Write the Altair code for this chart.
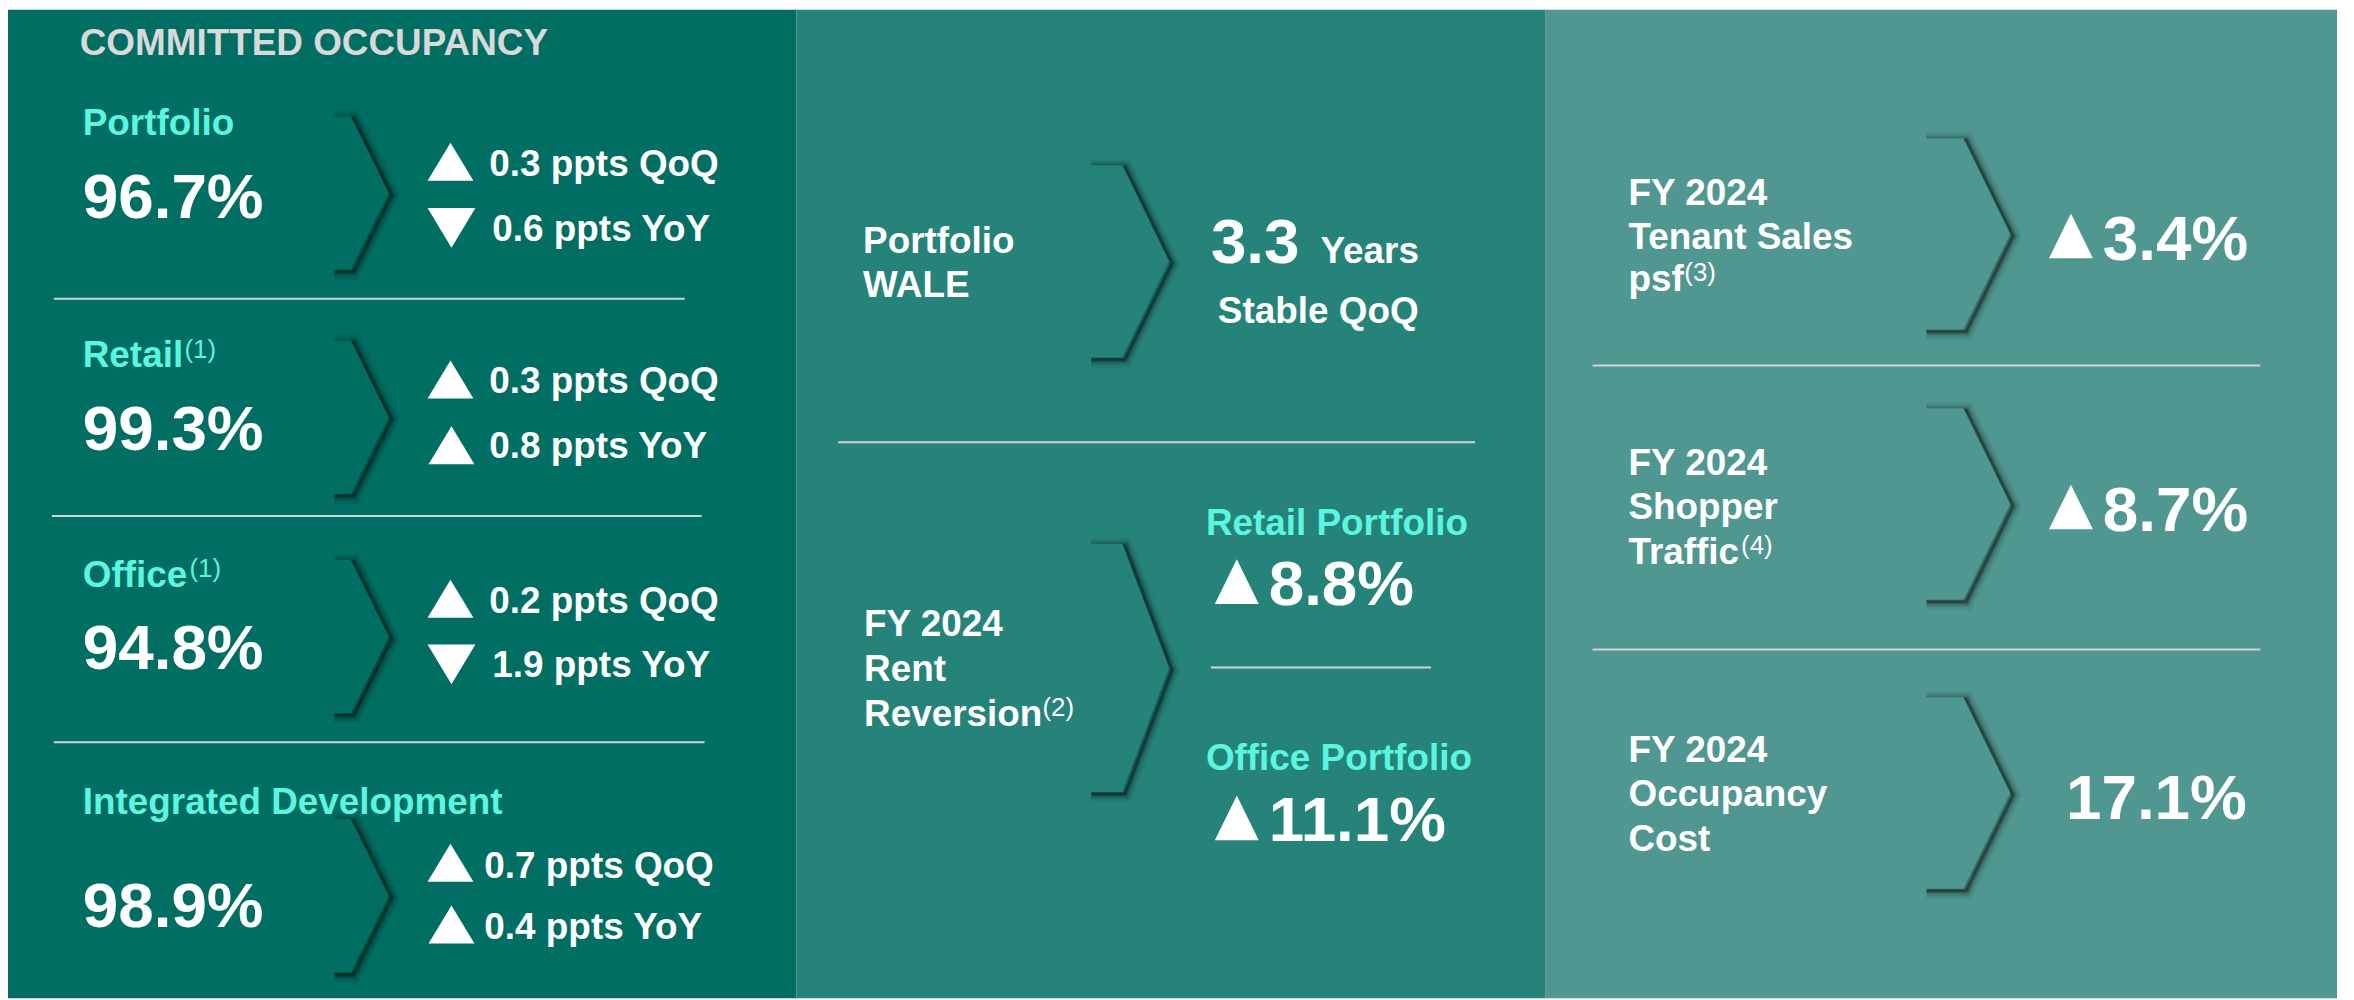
import altair as alt
import pandas as pd

# ---------------- data ----------------
title = "COMMITTED OCCUPANCY"
occ_segments = ["Portfolio", "Retail", "Office", "Integrated Development"]
occ_notes = ["", "(1)", "(1)", ""]
occ_values = [96.7, 99.3, 94.8, 98.9]
occ_qoq = [0.3, 0.3, 0.2, 0.7]
occ_qoq_dir = ["up", "up", "up", "up"]
occ_yoy = [0.6, 0.8, 1.9, 0.4]
occ_yoy_dir = ["down", "up", "down", "up"]

wale_label = ["Portfolio", "WALE"]
wale_years = 3.3
wale_change = "Stable QoQ"

rev_label = ["FY 2024", "Rent", "Reversion"]
rev_note = "(2)"
rev_segments = ["Retail Portfolio", "Office Portfolio"]
rev_values = [8.8, 11.1]

kpi_labels = [["FY 2024", "Tenant Sales", "psf"],
              ["FY 2024", "Shopper", "Traffic"],
              ["FY 2024", "Occupancy", "Cost"]]
kpi_notes = ["(3)", "(4)", ""]
kpi_values = [3.4, 8.7, 17.1]
kpi_dir = ["up", "up", ""]

# ---------------- layout (page pixels) ----------------
W, H, M = 2354, 1000, 8
C_LEFT, C_MID, C_RIGHT = "#006e62", "#268379", "#4f9790"
CYAN, WHITE, GREY, SEP = "#5cf5e0", "#ffffff", "#d9d9d9", "#cdd6d4"
FONT = "Liberation Sans, Arial, sans-serif"
F_MED, F_BIG, F_SUP = 37, 64, 26

panels = pd.DataFrame({"x": [M, 799, 1551], "x2": [799, 1551, 2345],
                       "y": [M] * 3, "y2": [H] * 3, "c": [C_LEFT, C_MID, C_RIGHT]})

bold, reg, tris, seps, chevs = [], [], [], [], []

def T(x, y, t, s, c, lst=bold):
    lst.append({"x": x, "y": y, "text": t, "size": s, "color": c})

T(80, 53, title, F_MED, GREY)

lab_y = [134, 367, 587, 815]
val_y = [217, 450, 670, 928]
sup_x = [0, 185, 190, 0]
chev_top = [115, 340, 560, 820]
qoq_cy = [160.5, 379, 599, 864]
yoy_cy = [227, 445, 665, 926]
qoq_by = [175, 393, 613, 879]
yoy_by = [240, 458, 678, 940]
for i, seg in enumerate(occ_segments):
    T(83, lab_y[i], seg, F_MED, CYAN)
    if occ_notes[i]:
        T(sup_x[i], lab_y[i] - 10, occ_notes[i], F_SUP, CYAN, reg)
    T(83, val_y[i], f"{occ_values[i]:.1f}%", F_BIG, WHITE)
    tx = 486 if i == 3 else 491
    T(tx, qoq_by[i], f"{occ_qoq[i]:.1f} ppts QoQ", F_MED, WHITE)
    T(tx + (3 if occ_yoy_dir[i] == "down" else 0), yoy_by[i], f"{occ_yoy[i]:.1f} ppts YoY", F_MED, WHITE)
    tris.append({"x": 452, "y": qoq_cy[i], "kind": occ_qoq_dir[i] + "_s"})
    tris.append({"x": 453, "y": yoy_cy[i], "kind": occ_yoy_dir[i] + "_s"})
    chevs.append((i, 320, 352, 390, chev_top[i], chev_top[i] + 154, C_LEFT))

seps += [(54, 687, 298), (52, 704, 516), (54, 707, 743)]

# middle
T(866, 252, wale_label[0], F_MED, WHITE)
T(866, 296, wale_label[1], F_MED, WHITE)
T(1215, 262, f"{wale_years:.1f}", F_BIG, WHITE)
T(1325, 262, "Years", F_MED, WHITE)
T(1222, 322, wale_change, F_MED, WHITE)
chevs.append((4, 1080, 1126, 1173, 164, 357, C_MID))
seps.append((841, 1480, 442))
for j, (t, yy) in enumerate(zip(rev_label, [636, 682, 727])):
    T(867, yy, t, F_MED, WHITE)
T(1046, 717, rev_note, F_SUP, WHITE, reg)
chevs.append((5, 1080, 1126, 1173, 544, 793, C_MID))
rev_lab_y = [535, 771]
rev_val_y = [605, 842]
for j, seg in enumerate(rev_segments):
    T(1210, rev_lab_y[j], seg, F_MED, CYAN)
    T(1273, rev_val_y[j], f"{rev_values[j]:.1f}%", F_BIG, WHITE)
    tris.append({"x": 1241, "y": rev_val_y[j] - 23, "kind": "up_b"})
seps.append((1215, 1436, 668))

# right
kpi_lab_y = [[204, 248, 290], [475, 519, 564], [763, 807, 852]]
kpi_sup_x = [1690, 1747, 0]
kpi_top = [137, 408, 698]
kpi_val_y = [259, 531, 820]
for k in range(3):
    for t, yy in zip(kpi_labels[k], kpi_lab_y[k]):
        T(1634, yy, t, F_MED, WHITE)
    if kpi_notes[k]:
        T(kpi_sup_x[k], kpi_lab_y[k][2] - 10, kpi_notes[k], F_SUP, WHITE, reg)
    chevs.append((6 + k, 1918, 1970, 2017, kpi_top[k], kpi_top[k] + 192, C_RIGHT))
    if kpi_dir[k] == "up":
        T(2110, kpi_val_y[k], f"{kpi_values[k]:.1f}%", F_BIG, WHITE)
        tris.append({"x": 2078, "y": kpi_val_y[k] - 24, "kind": "up_b"})
    else:
        T(2073, kpi_val_y[k], f"{kpi_values[k]:.1f}%", F_BIG, WHITE)
seps += [(1598, 2268, 365), (1598, 2268, 650)]

# ---------------- scales ----------------
xs = alt.Scale(domain=[M, W], nice=False, zero=False)
ys = alt.Scale(domain=[M, H], nice=False, zero=False, reverse=True)
X = lambda f: alt.X(f, type="quantitative", scale=xs, axis=None)
Y = lambda f: alt.Y(f, type="quantitative", scale=ys, axis=None)

layers = []
layers.append(alt.Chart(panels).mark_rect().encode(
    x=X("x"), x2="x2", y=Y("y"), y2="y2", color=alt.Color("c:N", scale=None)))

# chevron shadows
sh_rows = []
for cid, x0, xf, xt, top, bot, c in chevs:
    tip = (top + bot) / 2
    pts = [(x0 + 12, top), (xf, top), (xt, tip), (xf, bot), (x0 + 12, bot)]
    for o, (px, py) in enumerate(pts):
        sh_rows.append({"id": cid, "o": o, "x": px + 3, "y": py + 2})
sh = pd.DataFrame(sh_rows)
for w, op in [(16, 0.06), (11, 0.09), (7, 0.13), (4, 0.2), (2, 0.25)]:
    layers.append(alt.Chart(sh).mark_line(color="#000000", strokeWidth=w, opacity=op,
                                          strokeJoin="miter", strokeCap="butt").encode(
        x=X("x"), y=Y("y"), detail="id:N", order="o:Q"))

# chevron bodies
ar_rows = []
for cid, x0, xf, xt, top, bot, c in chevs:
    tip = (top + bot) / 2
    for px, py, py2 in [(x0, top, bot), (xf, top, bot), (xt, tip, tip)]:
        ar_rows.append({"id": cid, "x": px, "y": py, "y2": py2, "c": c})
layers.append(alt.Chart(pd.DataFrame(ar_rows)).mark_area(opacity=1).encode(
    x=X("x"), y=Y("y"), y2="y2", detail="id:N", color=alt.Color("c:N", scale=None)))

# separators
sep_df = pd.DataFrame(seps, columns=["x", "x2", "y"])
layers.append(alt.Chart(sep_df).mark_rule(color=SEP, strokeWidth=2).encode(
    x=X("x"), x2="x2", y=Y("y")))

# triangles
tri_df = pd.DataFrame(tris)
shapes = {
    "up_s": ("M-1,0.83L1,0.83L0,-0.83Z", 46 * 46),
    "down_s": ("M-1,-0.83L1,-0.83L0,0.83Z", 48 * 48),
    "up_b": ("M-1,1.02L1,1.02L0,-1.02Z", 44 * 44),
}
for kind, (path, sz) in shapes.items():
    d = tri_df[tri_df["kind"] == kind]
    if len(d):
        layers.append(alt.Chart(d).mark_point(shape=path, size=sz, filled=True,
                                              color=WHITE, opacity=1, strokeWidth=0).encode(
            x=X("x"), y=Y("y")))

# texts
for lst, wgt in [(bold, "bold"), (reg, "normal")]:
    layers.append(alt.Chart(pd.DataFrame(lst)).mark_text(
        align="left", baseline="alphabetic", font=FONT, fontWeight=wgt).encode(
        x=X("x"), y=Y("y"), text="text:N",
        size=alt.Size("size:Q", scale=None),
        color=alt.Color("color:N", scale=None)))

chart = alt.layer(*layers).properties(
    width=W - M, height=H - M, padding=0,
    autosize=alt.AutoSizeParams(type="none"),
    background="#ffffff",
).configure_view(strokeWidth=0)

chart.save("out.html", embed_options={"renderer": "svg", "actions": False})
